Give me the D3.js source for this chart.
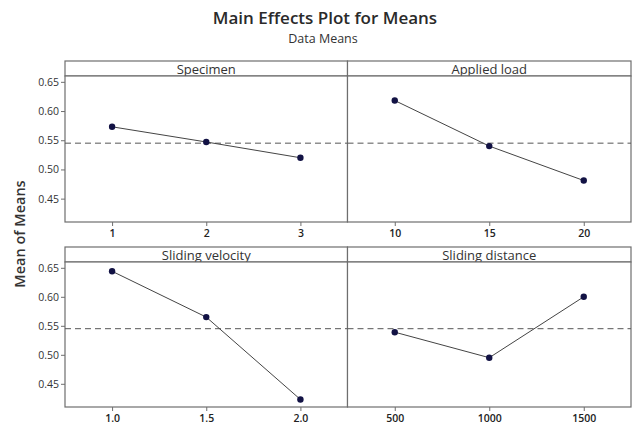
<!DOCTYPE html>
<html>
<head>
<meta charset="utf-8">
<script src="https://cdn.jsdelivr.net/npm/d3@7"></script>
<style>
  body { margin: 0; background: #fff; }
  svg { display: block; font-family: "Open Sans", "Noto Sans", sans-serif; }
</style>
</head>
<body>
<svg id="chart" width="632" height="430"></svg>
<script>
// factor names, levels and level means
const factors = ["Specimen", "Applied load", "Sliding velocity", "Sliding distance"];
const levels = [["1", "2", "3"], ["10", "15", "20"], ["1.0", "1.5", "2.0"], ["500", "1000", "1500"]];
const means = [
    [0.573, 0.547, 0.520],
    [0.618, 0.540, 0.481],
    [0.644, 0.565, 0.423],
    [0.539, 0.495, 0.600]
];
const grandMean = 0.545;
const yTicks = [0.45, 0.50, 0.55, 0.60, 0.65];

const svg = d3.select("#chart");

// panel grid
const colX = [65, 347.5, 631];
const rows = [
    {hTop: 61, hBot: 76, bot: 222},
    {hTop: 247, hBot: 262, bot: 407}
];
const frame = "#6e6e6e";

svg.append("text")
    .attr("x", 325).attr("y", 24)
    .attr("text-anchor", "middle")
    .attr("font-size", 17)
    .attr("font-weight", 600)
    .attr("fill", "#2a2a2a")
    .text("Main Effects Plot for Means");

svg.append("text")
    .attr("x", 323).attr("y", 43)
    .attr("text-anchor", "middle")
    .attr("font-size", 12.5)
    .attr("fill", "#333")
    .text("Data Means");

svg.append("text")
    .attr("transform", "translate(25,234) rotate(-90)")
    .attr("text-anchor", "middle")
    .attr("font-size", 14.5)
    .attr("font-weight", 600)
    .attr("fill", "#333")
    .text("Mean of Means");

factors.forEach(function (f, i) {
    const r = rows[Math.floor(i / 2)];
    const c = i % 2;
    const x0 = colX[c], x1 = colX[c + 1];

    const x = d3.scalePoint().domain(levels[i]).range([x0, x1]).padding(0.5);
    const y = d3.scaleLinear().domain([0.41, 0.66]).range([r.bot, r.hBot]);

    const g = svg.append("g");

    // header strip
    g.append("rect")
        .attr("x", x0).attr("y", r.hTop)
        .attr("width", x1 - x0).attr("height", r.hBot - r.hTop)
        .attr("fill", "#fff")
        .attr("stroke", frame).attr("stroke-width", 1.2);

    g.append("text")
        .attr("x", (x0 + x1) / 2).attr("y", r.hBot - 2)
        .attr("text-anchor", "middle")
        .attr("font-size", 13)
        .attr("fill", "#333")
        .text(f);

    // plot frame
    g.append("rect")
        .attr("x", x0).attr("y", r.hBot)
        .attr("width", x1 - x0).attr("height", r.bot - r.hBot)
        .attr("fill", "#fff")
        .attr("stroke", frame).attr("stroke-width", 1.2);

    // reference line at grand mean
    g.append("line")
        .attr("x1", x0).attr("x2", x1)
        .attr("y1", y(grandMean)).attr("y2", y(grandMean))
        .attr("stroke", "#555").attr("stroke-width", 1)
        .attr("stroke-dasharray", "6,4");

    const pts = levels[i].map((l, j) => [l, means[i][j]]);

    g.append("path")
        .datum(pts)
        .attr("fill", "none")
        .attr("stroke", "#444").attr("stroke-width", 1)
        .attr("d", d3.line().x(d => x(d[0])).y(d => y(d[1])));

    g.selectAll("circle")
        .data(pts)
        .enter().append("circle")
        .attr("cx", d => x(d[0]))
        .attr("cy", d => y(d[1]))
        .attr("r", 3.2)
        .attr("fill", "#121244");

    // x axis
    const xa = g.append("g")
        .attr("transform", "translate(0," + r.bot + ")")
        .call(d3.axisBottom(x).tickSize(4).tickPadding(4));
    xa.select(".domain").remove();
    xa.selectAll("line").attr("stroke", frame);
    xa.selectAll("text")
        .attr("font-size", 10.5).attr("font-weight", 600)
        .attr("fill", "#222")
        .style("font-family", "\"Open Sans\", sans-serif");

    // y axis on left column only
    if (c === 0) {
        const ya = g.append("g")
            .attr("transform", "translate(" + x0 + ",0)")
            .call(d3.axisLeft(y).tickValues(yTicks).tickFormat(d3.format(".2f")).tickSize(4).tickPadding(2));
        ya.select(".domain").remove();
        ya.selectAll("line").attr("stroke", frame);
        ya.selectAll("text")
            .attr("font-size", 10.5)
            .attr("fill", "#333")
            .style("font-family", "\"Open Sans\", sans-serif");
    }
});
</script>
</body>
</html>
